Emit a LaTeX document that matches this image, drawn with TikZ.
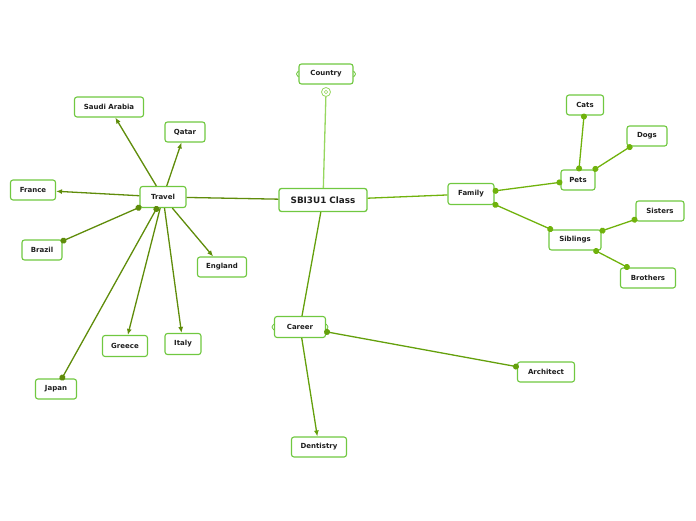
\documentclass[tikz,border=0pt]{standalone}
\usepackage{fontspec}
\setmainfont{DejaVu Sans}
\usetikzlibrary{arrows.meta,calc}
\definecolor{boxgreen}{RGB}{112,200,64}
\definecolor{travelc}{RGB}{95,140,10}
\definecolor{familyc}{RGB}{112,178,12}
\definecolor{careerc}{RGB}{100,160,12}
\definecolor{countryc}{RGB}{150,215,95}
\definecolor{txt}{RGB}{30,30,30}
\tikzset{
  box/.style={draw=boxgreen, line width=1.1pt, rounded corners=2.5pt, fill=white,
    text=txt, font=\bfseries\fontsize{7}{8}\selectfont, minimum height=20pt, inner sep=0pt},
  mainbox/.style={box, line width=1.3pt, font=\bfseries\fontsize{8.8}{10}\selectfont, minimum height=23pt},
  arr/.style={line width=1.3pt, -{Latex[length=6pt,width=5pt]}},
  dots/.style={line width=1.3pt, {Circle[length=6pt]}-{Circle[length=6pt]}, shorten <=-2pt, shorten >=-2pt},
  plain/.style={line width=1.3pt},
  bump/.style={draw=boxgreen, line width=0.8pt}
}
\begin{document}
\begin{tikzpicture}[x=1pt,y=-1pt]
\useasboundingbox (0,0) rectangle (696,520);
% nodes
\node[mainbox, minimum width=88pt] (main) at (323,200) {SBI3U1 Class};
\node[box, minimum width=54pt] (country) at (326,74) {Country};
\node[draw=countryc, fill=white, circle, line width=0.8pt, minimum size=9pt, inner sep=0pt] (cmark) at (326,92) {};
\node[box, minimum width=46pt, minimum height=21pt] (travel) at (163,197) {Travel};
\node[box, minimum width=46pt, minimum height=21pt] (family) at (471,194) {Family};
\node[box, minimum width=51pt, minimum height=21pt] (career) at (300,327) {Career};
\node[box, minimum width=69pt] (saudi) at (109,107) {Saudi Arabia};
\node[box, minimum width=40pt] (qatar) at (185,132) {Qatar};
\node[box, minimum width=45pt] (france) at (33,190) {France};
\node[box, minimum width=40pt] (brazil) at (42,250) {Brazil};
\node[box, minimum width=49pt] (england) at (222,267) {England};
\node[box, minimum width=45pt, minimum height=21pt] (greece) at (125,346) {Greece};
\node[box, minimum width=36pt, minimum height=21pt] (italy) at (183,344) {Italy};
\node[box, minimum width=41pt] (japan) at (56,389) {Japan};
\node[box, minimum width=34pt] (pets) at (578,180) {Pets};
\node[box, minimum width=37pt] (cats) at (585,105) {Cats};
\node[box, minimum width=40pt] (dogs) at (647,136) {Dogs};
\node[box, minimum width=52pt] (siblings) at (575,240) {Siblings};
\node[box, minimum width=48pt] (sisters) at (660,211) {Sisters};
\node[box, minimum width=55pt] (brothers) at (648,278) {Brothers};
\node[box, minimum width=57pt] (architect) at (546,372) {Architect};
\node[box, minimum width=55pt] (dentistry) at (319,447) {Dentistry};
% side bumps
\draw[bump] ($(country.west)+(0,-3)$) .. controls ($(country.west)+(-2.5,0)$) .. ($(country.west)+(0,3)$);
\draw[bump] ($(country.east)+(0,-3)$) .. controls ($(country.east)+(2.5,0)$) .. ($(country.east)+(0,3)$);
\draw[bump] ($(career.west)+(0,-3)$) .. controls ($(career.west)+(-2.5,0)$) .. ($(career.west)+(0,3)$);
\draw[bump] ($(career.east)+(0,-3)$) .. controls ($(career.east)+(2.5,0)$) .. ($(career.east)+(0,3)$);
\draw[countryc, line width=0.6pt] (cmark.center) circle (1.8pt);
% connectors
\draw[plain, travelc] (main) -- (travel);
\draw[plain, countryc] (cmark) -- (main);
\draw[plain, familyc] (main) -- (family);
\draw[plain, careerc] (main) -- (career);
\draw[arr, travelc] (travel) -- (saudi);
\draw[arr, travelc] (travel) -- (qatar);
\draw[arr, travelc] (travel) -- (france);
\draw[dots, travelc] (travel) -- (brazil);
\draw[arr, travelc] (travel) -- (england);
\draw[arr, travelc] (travel) -- (greece);
\draw[arr, travelc] (travel) -- (italy);
\draw[dots, travelc] (travel) -- (japan);
\draw[arr, careerc] (career) -- (dentistry);
\draw[dots, careerc] (career) -- (architect);
\draw[dots, familyc] (family) -- (pets);
\draw[dots, familyc] (family) -- (siblings);
\draw[dots, familyc] (pets) -- (cats);
\draw[dots, familyc] (pets) -- (dogs);
\draw[dots, familyc] (siblings) -- (sisters);
\draw[dots, familyc] (siblings) -- (brothers);
\end{tikzpicture}
\end{document}
